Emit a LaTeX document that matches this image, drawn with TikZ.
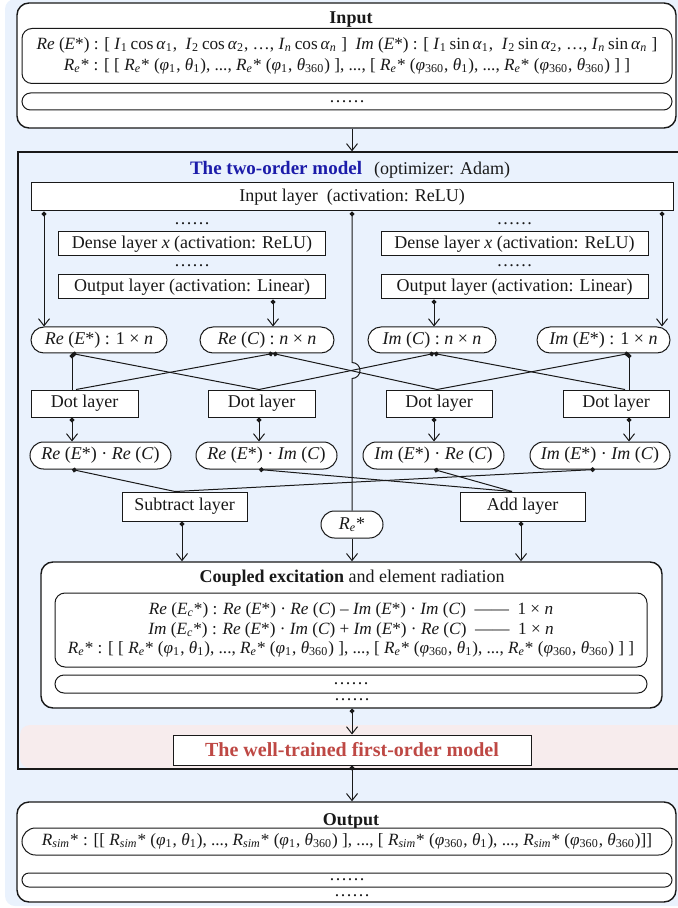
\documentclass[tikz,border=0pt]{standalone}
\usepackage{fontspec}
\setmainfont{Liberation Serif}
\usetikzlibrary{arrows.meta,calc}

\definecolor{bgblue}{RGB}{234,242,253}
\definecolor{bandpink}{RGB}{247,236,237}
\definecolor{titleblue}{RGB}{28,28,170}
\definecolor{titlered}{RGB}{190,72,68}
\definecolor{ink}{RGB}{25,25,25}

\newcommand\fs{\fontsize{9}{10.5}\selectfont}
\newcommand\fl{\fontsize{8.6}{10.5}\selectfont}
\newcommand\vi[1]{\textit{#1}}
\newcommand\sbs[1]{\textsubscript{#1}}
\newcommand\Estar{\vi{E}*}
\newcommand\Rst{\vi{R}\sbs{\vi{e}}*}
\newcommand\Rsim{\vi{R}\sbs{\vi{sim}}*}
\newcommand\ReLine{\Rst{} : [ [ \Rst{} (\vi{φ}\sbs{1}, \vi{θ}\sbs{1}), ..., \Rst{} (\vi{φ}\sbs{1}, \vi{θ}\sbs{360}) ], ..., [ \Rst{} (\vi{φ}\sbs{360}, \vi{θ}\sbs{1}), ..., \Rst{} (\vi{φ}\sbs{360}, \vi{θ}\sbs{360}) ] ]}

\begin{document}
\begin{tikzpicture}[x=0.5pt,y=-0.5pt,
  every node/.style={font=\fs, inner sep=0pt, text=ink},
  wh/.style 2 args={minimum width=#1, minimum height=#2},
  sq/.style={draw=ink, line width=0.5pt, fill=white},
  pill/.style={sq, rounded corners=#1},
  big/.style={draw=ink, line width=0.7pt, fill=white, rounded corners=6pt},
  wire/.style={draw=ink, line width=0.5pt, {Circle[length=2.4pt]}-},
  conn/.style={draw=ink, line width=0.5pt, -{Straight Barb[length=3.5pt,width=5.5pt]}},
  dconn/.style={draw=ink, line width=0.5pt, {Circle[length=2.4pt]}-{Straight Barb[length=3.5pt,width=5.5pt]}}]

\useasboundingbox (0,0) rectangle (677,908);

% backgrounds
\fill[bgblue, rounded corners=5pt] (5,-1) rectangle (700,906);
\fill[bandpink, rounded corners=5pt] (20,725) rectangle (700,768);
\node[draw=ink, line width=0.6pt, wh={336pt}{308.5pt}] (frame) at (354,460.5) {};

% input block
\node[big, wh={329.5pt}{62.5pt}] (inbox) at (346.5,65.5) {};
\node[font=\fs\bfseries] (intitle) at (351,19.5) {Input};
\node[pill=5pt, wh={325pt}{27.5pt}, align=center, font=\fl] (inlines) at (347,56)
  {\vi{Re} (\Estar) : [ \vi{I}\sbs{1}\,cos\,\vi{α}\sbs{1}, \ \vi{I}\sbs{2}\,cos\,\vi{α}\sbs{2}, …, \vi{I}\sbs{\vi{n}}\,cos\,\vi{α}\sbs{\vi{n}} ] \ \vi{Im} (\Estar) : [ \vi{I}\sbs{1}\,sin\,\vi{α}\sbs{1}, \ \vi{I}\sbs{2}\,sin\,\vi{α}\sbs{2}, …, \vi{I}\sbs{\vi{n}}\,sin\,\vi{α}\sbs{\vi{n}} ]\\
   \ReLine};
\node[pill=4.25pt, wh={325pt}{8.5pt}] (indots) at (347,101.5) {……};

% two-order model
\node (mtitle) at (350,170) {{\fontsize{9.5}{11}\selectfont\bfseries\color{titleblue}The two-order model}\hspace{6pt}(optimizer: Adam)};
\node[sq, wh={321pt}{14pt}] (inlayer) at (352,197) {Input layer\ \ (activation: ReLU)};

\node (dotsA) at (192,224) {……};
\node (dotsB) at (514.5,224) {……};
\node[sq, wh={133.5pt}{12pt}] (dense1) at (192,244) {Dense layer \vi{x} (activation: ReLU)};
\node[sq, wh={133.5pt}{12pt}] (dense2) at (514.5,244) {Dense layer \vi{x} (activation: ReLU)};
\node (dotsC) at (192,266) {……};
\node (dotsD) at (514.5,266) {……};
\node[sq, wh={133.5pt}{12pt}] (outl1) at (192,287) {Output layer (activation: Linear)};
\node[sq, wh={133.5pt}{12pt}] (outl2) at (514.5,287) {Output layer (activation: Linear)};

\node[pill=6.5pt, wh={68pt}{13pt}] (reE) at (99,340) {\vi{Re} (\Estar) : 1 × \vi{n}};
\node[pill=6.5pt, wh={67pt}{13pt}] (reC) at (267,340) {\vi{Re} (\vi{C}) : \vi{n} × \vi{n}};
\node[pill=6.5pt, wh={64pt}{13pt}] (imC) at (432,340) {\vi{Im} (\vi{C}) : \vi{n} × \vi{n}};
\node[pill=6.5pt, wh={66.5pt}{13pt}] (imE) at (603.5,340) {\vi{Im} (\Estar) : 1 × \vi{n}};

\node[sq, wh={53.5pt}{13.5pt}] (dot1) at (84.5,403.5) {Dot layer};
\node[sq, wh={53.5pt}{13.5pt}] (dot2) at (261.5,403.5) {Dot layer};
\node[sq, wh={53pt}{13.5pt}] (dot3) at (439,403.5) {Dot layer};
\node[sq, wh={53pt}{13.5pt}] (dot4) at (616,403.5) {Dot layer};

\node[pill=6.75pt, wh={70.5pt}{13.5pt}] (p1) at (100.5,455.5) {\vi{Re} (\Estar) · \vi{Re} (\vi{C})};
\node[pill=6.75pt, wh={70.5pt}{13.5pt}] (p2) at (266.5,455.5) {\vi{Re} (\Estar) · \vi{Im} (\vi{C})};
\node[pill=6.75pt, wh={70.5pt}{13.5pt}] (p3) at (433.5,455.5) {\vi{Im} (\Estar) · \vi{Re} (\vi{C})};
\node[pill=6.75pt, wh={70pt}{13.5pt}] (p4) at (600,455.5) {\vi{Im} (\Estar) · \vi{Im} (\vi{C})};

\node[sq, wh={62.5pt}{14.5pt}] (sub) at (184.5,506.5) {Subtract layer};
\node[sq, wh={62.5pt}{14.5pt}] (add) at (522.5,506.5) {Add layer};
\node[pill=6.75pt, wh={31pt}{13.5pt}] (restar) at (352,524.5) {\Rst};

% coupled excitation block
\node[big, wh={310.5pt}{73pt}] (coup) at (351.5,635) {};
\node (couptitle) at (352,578.5) {\textbf{Coupled excitation} and element radiation};
\node[pill=5pt, wh={296pt}{37pt}, align=center, font=\fontsize{8.6}{9.6}\selectfont] (couplines) at (351,630)
  {\vi{Re} (\vi{E}\sbs{\vi{c}}*) : \vi{Re} (\Estar) · \vi{Re} (\vi{C}) – \vi{Im} (\Estar) · \vi{Im} (\vi{C}) \ —— \ 1 × \vi{n}\\
   \vi{Im} (\vi{E}\sbs{\vi{c}}*) : \vi{Re} (\Estar) · \vi{Im} (\vi{C}) + \vi{Im} (\Estar) · \vi{Re} (\vi{C}) \ —— \ 1 × \vi{n}\\
   \ReLine};
\node[pill=4.5pt, wh={296pt}{9pt}] (coupdots) at (351,684) {……};
\node (coupmore) at (352,700) {……};

% trained model
\node[sq, wh={179pt}{15pt}, font=\fontsize{10}{12}\selectfont\bfseries, text=titlered] (first) at (352,750) {The well-trained first-order model};

% output block
\node[big, wh={329.5pt}{50pt}] (outbox) at (346.5,852) {};
\node[font=\fs\bfseries] (outtitle) at (351,821.5) {Output};
\node[pill=6.75pt, wh={325pt}{13.5pt}, font=\fl] (outline) at (347,841.5)
  {\Rsim{} : [[ \Rsim{} (\vi{φ}\sbs{1}, \vi{θ}\sbs{1}), ..., \Rsim{} (\vi{φ}\sbs{1}, \vi{θ}\sbs{360}) ], ..., [ \Rsim{} (\vi{φ}\sbs{360}, \vi{θ}\sbs{1}), ..., \Rsim{} (\vi{φ}\sbs{360}, \vi{θ}\sbs{360})]]};
\node[pill=3.5pt, wh={325pt}{7pt}] (outdots) at (347,880) {……};
\node (outmore) at (352,896) {……};

% connectors: input to model
\draw[conn] (inbox.south -| inlayer.north) -- (frame.north -| inlayer.north);

% input layer and output layers to the four operands
\coordinate (tRE) at ([xshift=-27.5pt]reE.north);
\coordinate (tRC) at ([xshift=3pt]reC.north);
\coordinate (tIC) at ([xshift=1pt]imC.north);
\coordinate (tIE) at ([xshift=29.25pt]imE.north);
\draw[dconn] (inlayer.south -| tRE) -- (tRE);
\draw[dconn] (outl1.south -| tRC) -- (tRC);
\draw[dconn] (outl2.south -| tIC) -- (tIC);
\draw[dconn] (inlayer.south -| tIE) -- (tIE);

% centre line carrying R_e*, hopping over the crossing wires
\coordinate (hop) at (352,362.5);
\draw[wire] (inlayer.south) -- (hop) arc[start angle=-90,end angle=90,radius=8] -- (restar.north);

% operands to dot layers
\coordinate (bRE) at ([xshift=-13.5pt]reE.south);
\coordinate (bRC) at ([xshift=3pt]reC.south);
\coordinate (bIC) at ([xshift=1pt]imC.south);
\coordinate (bIE) at ([xshift=12.75pt]imE.south);
\coordinate (d1a) at ([xshift=-6.25pt]dot1.north);
\coordinate (d1b) at ([xshift=-4.25pt]dot1.north);
\coordinate (d2) at ([xshift=-1.25pt]dot2.north);
\coordinate (d3) at ([xshift=-1pt]dot3.north);
\coordinate (d4a) at ([xshift=6.5pt]dot4.north);
\coordinate (d4b) at ([xshift=4.5pt]dot4.north);
\draw[wire] (bRE) -- (d1a);
\draw[wire] (bRE) -- (d2);
\draw[wire] (bRC) -- (d1b);
\draw[wire] (bRC) -- (d3);
\draw[wire] (bIC) -- (d2);
\draw[wire] (bIC) -- (d4b);
\draw[wire] (bIE) -- (d4a);
\draw[wire] (bIE) -- (d3);

% dot layers to products
\coordinate (e1) at ([xshift=-6.25pt]dot1.south);
\coordinate (e2) at ([xshift=-1.25pt]dot2.south);
\coordinate (e3) at ([xshift=-2.5pt]dot3.south);
\coordinate (e4) at ([xshift=6.5pt]dot4.south);
\draw[dconn] (e1) -- (e1 |- p1.north);
\draw[dconn] (e2) -- (e2 |- p2.north);
\draw[dconn] (e3) -- (e3 |- p3.north);
\draw[dconn] (e4) -- (e4 |- p4.north);

% products to subtract / add
\coordinate (f1) at ([xshift=-14.25pt]p1.south);
\coordinate (f2) at ([xshift=-3.75pt]p2.south);
\coordinate (f3) at ([xshift=0.25pt]p3.south);
\coordinate (f4) at ([xshift=-2.5pt]p4.south);
\coordinate (gs) at ([xshift=-4.75pt]sub.north);
\coordinate (ga) at ([xshift=-5.25pt]add.north);
\draw[wire] (f1) -- (gs);
\draw[wire] (f4) -- (gs);
\draw[wire] (f2) -- (ga);
\draw[wire] (f3) -- (ga);

% into the coupled block
\coordinate (hs) at ([xshift=-1.25pt]sub.south);
\coordinate (ha) at ([xshift=-0.75pt]add.south);
\draw[dconn] (hs) -- (hs |- coup.north);
\draw[dconn] (ha) -- (ha |- coup.north);
\draw[conn] (restar.south) -- (restar.south |- coup.north);

% down to the trained model and the output
\draw[dconn] (coup.south -| first.north) -- (first.north);
\draw[dconn] (first.south) -- (first.south |- outbox.north);
\end{tikzpicture}
\end{document}
